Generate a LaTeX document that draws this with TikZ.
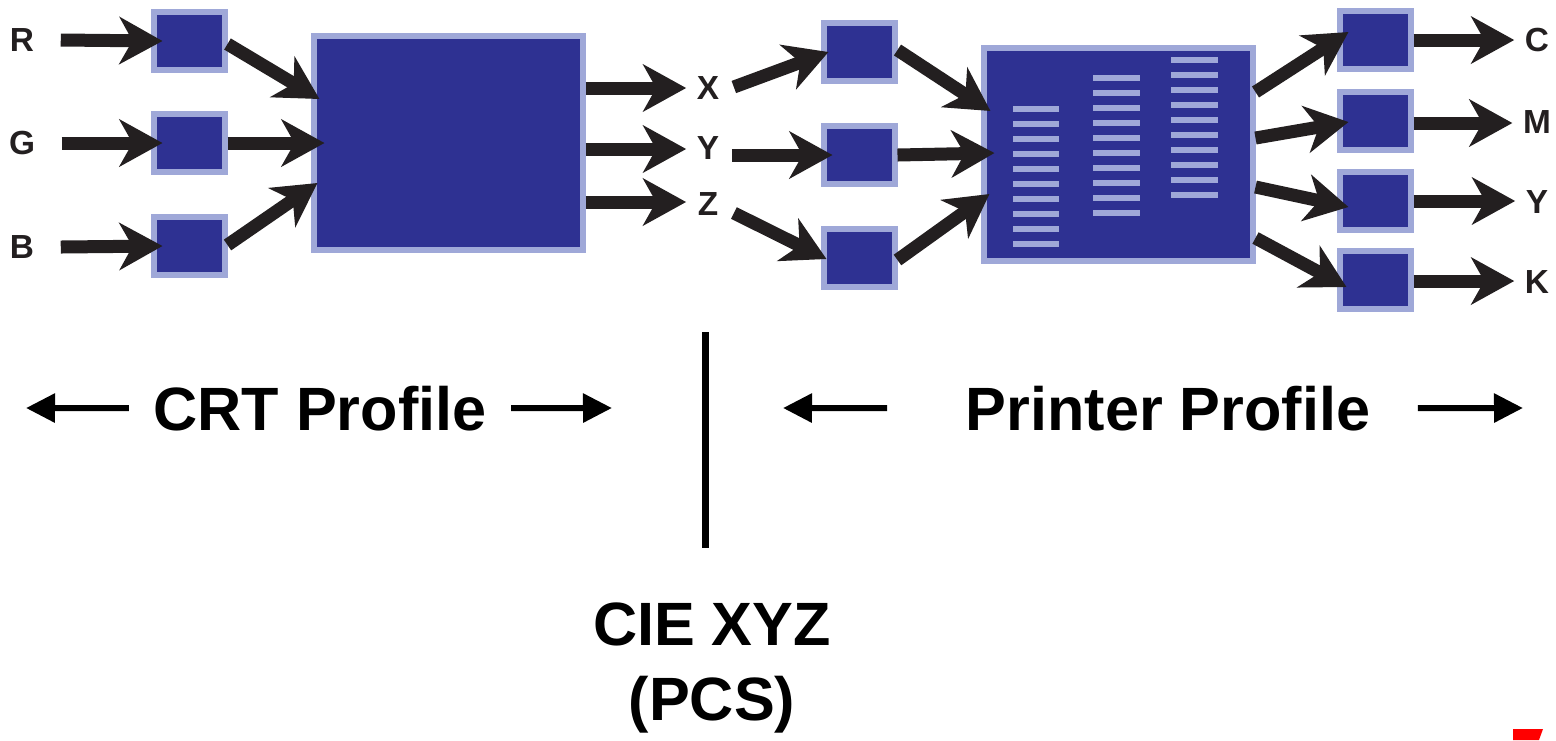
\documentclass[tikz,border=0pt]{standalone}
\usepackage{fontspec}
\setmainfont{Liberation Sans}
\usetikzlibrary{arrows.meta,positioning,calc}
\definecolor{boxblue}{HTML}{2E3192}
\definecolor{rimblue}{HTML}{9FA8D8}
\definecolor{inkblack}{HTML}{231F20}

\begin{document}
\begin{tikzpicture}[x=0.1mm, y=-0.1mm,
    cell/.style={draw=rimblue, fill=boxblue, line width=0.6mm, inner sep=0pt, minimum width=7.1mm, minimum height=5.8mm},
    block/.style={cell, minimum width=26.9mm, minimum height=21.4mm},
    chan/.style={font=\fontsize{9.5}{11}\selectfont\bfseries, text=inkblack, inner sep=0pt},
    flow/.style={draw=inkblack, line width=1.3mm, -{Stealth[length=4.3mm, width=4.7mm, inset=1.3mm]}},
    span/.style={line width=0.6mm, -{Triangle[length=2.9mm, width=2.8mm]}},
    title/.style={font=\fontsize{17.4}{20}\selectfont\bfseries, inner sep=0pt, anchor=base},
    bar/.style={draw=rimblue, line width=0.6mm}]
    \useasboundingbox (0,0) rectangle (1556,740);

    % Input channels and tone curves
    \node[chan] (inR) at (22,40) {R};
    \node[chan] (inG) at (22,143) {G};
    \node[chan] (inB) at (22,247) {B};
    \node[cell] (tR) at (189,41) {};
    \node[cell] (tG) at (189,143) {};
    \node[cell] (tB) at (189,246) {};

    % CRT matrix
    \node[block] (crt) at (448,143) {};

    % PCS channels
    \node[chan] (pcsX) at (708,88) {X};
    \node[chan] (pcsY) at (708,148) {Y};
    \node[chan] (pcsZ) at (708,204) {Z};

    % Printer input curves
    \node[cell] (uX) at (859,52) {};
    \node[cell] (uY) at (859,155) {};
    \node[cell] (uZ) at (859,258) {};

    % Printer lookup table
    \node[block, minimum height=21.3mm] (lut) at (1118,154) {};
    \foreach \i in {0,...,9} {
        \draw[bar] (1013,{109+15*\i}) -- (1059,{109+15*\i});
        \draw[bar] (1093,{78+15*\i}) -- (1140,{78+15*\i});
        \draw[bar] (1171,{60+15*\i}) -- (1218,{60+15*\i});
    }

    % Output curves and ink channels
    \node[cell] (vC) at (1375,40) {};
    \node[cell] (vM) at (1375,121) {};
    \node[cell] (vY) at (1375,201) {};
    \node[cell] (vK) at (1375,280) {};
    \node[chan] (inkC) at (1537,40) {C};
    \node[chan] (inkM) at (1537,122) {M};
    \node[chan] (inkY) at (1537,202) {Y};
    \node[chan] (inkK) at (1537,282) {K};

    % CRT side arrows
    \draw[flow] ($(inR.east)+(26,0)$) -- ($(tR.west)+(12,0)$);
    \draw[flow] ($(inG.east)+(26,0)$) -- ($(tG.west)+(12,0)$);
    \draw[flow] ($(inB.east)+(26,0)$) -- ($(tB.west)+(12,0)$);
    \draw[flow] ($(tR.east)+(0,3)$) -- ($(crt.west)+(9,-44)$);
    \draw[flow] (tG.east) -- ($(crt.west)+(14,0)$);
    \draw[flow] ($(tB.east)+(0,-1)$) -- ($(crt.west)+(7,40)$);
    \draw[flow] (crt.east |- pcsX) -- ($(pcsX.west)+(-10,0)$);
    \draw[flow] ($(crt.east |- pcsY)+(0,1)$) -- ($(pcsY.west)+(-10,1)$);
    \draw[flow] ($(crt.east |- pcsZ)+(0,-2)$) -- ($(pcsZ.west)+(-11,-2)$);

    % Printer side arrows
    \draw[flow] ($(pcsX.east)+(14,-1)$) -- ($(uX.west)+(8,0)$);
    \draw[flow] ($(pcsY.east)+(12,7)$) -- ($(uY.west)+(12,0)$);
    \draw[flow] ($(pcsZ.east)+(15,9)$) -- ($(uZ.west)+(6,1)$);
    \draw[flow] ($(uX.east)+(0,-2)$) -- ($(lut.west)+(10,-43)$);
    \draw[flow] (uY.east) -- ($(lut.west)+(14,-1)$);
    \draw[flow] ($(uZ.east)+(0,2)$) -- ($(lut.west)+(9,40)$);
    \draw[flow] ($(lut.east)+(0,-62)$) -- ($(vC.west)+(12,-8)$);
    \draw[flow] ($(lut.east)+(0,-16)$) -- ($(vM.west)+(12,1)$);
    \draw[flow] ($(lut.east)+(0,33)$) -- ($(vY.west)+(12,6)$);
    \draw[flow] ($(lut.east)+(0,84)$) -- ($(vK.west)+(10,7)$);
    \draw[flow] (vC.east) -- ($(inkC.west)+(-10,0)$);
    \draw[flow] ($(vM.east)+(0,2)$) -- ($(inkM.west)+(-10,1)$);
    \draw[flow] (vY.east) -- ($(inkY.west)+(-10,-1)$);
    \draw[flow] ($(vK.east)+(0,1)$) -- ($(inkK.west)+(-10,-1)$);

    % Profile spans
    \node[title] (crtname) at (320,430) {CRT Profile};
    \node[title] (prnname) at (1168,430) {Printer Profile};
    \coordinate (crtL) at (26,408);
    \coordinate (crtR) at (612,408);
    \coordinate (prnL) at (783,408);
    \coordinate (prnR) at (1523,408);
    \draw[span] ($(crtname.west)+(-24,0)$) -- (crtL);
    \draw[span] ($(crtname.east)+(24,0)$) -- (crtR);
    \draw[span] ($(prnname.west)+(-78,0)$) -- (prnL);
    \draw[span] ($(prnname.east)+(47,0)$) -- (prnR);

    % Connection space
    \draw[line width=0.7mm] (705,332) -- (705,548);
    \node[title] (cie) at (712,645) {CIE XYZ};
    \node[title] (pcs) at (712,720) {(PCS)};

    % Corner mark
    \fill[red] (1513,729) -- (1543,729) -- (1539,740) -- (1513,740) -- cycle;
\end{tikzpicture}
\end{document}
